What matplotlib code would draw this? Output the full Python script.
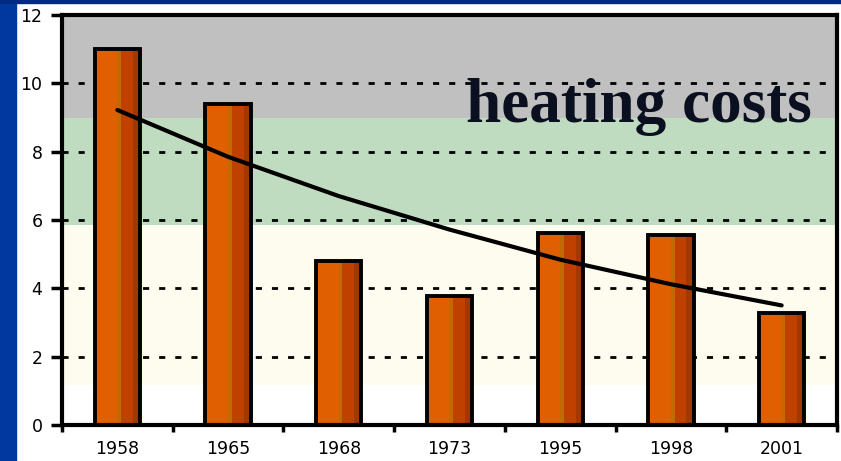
import numpy as np
import matplotlib.pyplot as plt
from matplotlib.patches import Rectangle

years = ['1958', '1965', '1968', '1973', '1995', '1998', '2001']
costs = [11.0, 9.4, 4.8, 3.78, 5.62, 5.56, 3.28]
trend = [9.22, 7.85, 6.7, 5.72, 4.84, 4.12, 3.5]

bands = [(9.0, 12.0, '#C0C0C0'), (5.85, 9.0, '#C0DCC0'), (1.18, 5.85, '#FEFBEF')]
# slices of one bar: start, end (fraction of width), colour
bar_slices = [(0.0, 0.5, '#E05F00'), (0.5, 0.58, '#C06A00'),
              (0.58, 0.84, '#C04000'), (0.84, 1.0, '#A03800')]

fig = plt.figure(figsize=(8.41, 4.61), dpi=100)
fig.patches.append(Rectangle((0, 0), 16 / 841, 1, transform=fig.transFigure,
                             color='#0038A0', zorder=0))
fig.patches.append(Rectangle((0, 1 - 3 / 461), 1, 3 / 461, transform=fig.transFigure,
                             color='#002A80', zorder=0))

ax = fig.add_axes([62 / 841, 1 - 425 / 461, (837 - 62) / 841, (425 - 15) / 461])
ax.set_facecolor('white')

for lo, hi, c in bands:
    ax.axhspan(lo, hi, color=c, zorder=0, lw=0)

for v in [2, 4, 6, 8, 10]:
    ax.axhline(v, color='black', lw=2, ls=(0, (2.2, 3.6)), zorder=1)

x = np.arange(len(years))
w = 0.41
for s, e, c in bar_slices:
    ax.bar(x - w / 2 + s * w, costs, width=(e - s) * w, align='edge', color=c, lw=0, zorder=2)
ax.bar(x, costs, width=w, fill=False, edgecolor='black', lw=2.8, zorder=3)

ax.plot(x, trend, color='black', lw=3, solid_capstyle='round', zorder=4)

ax.text(6.27, 8.88, 'heating costs', ha='right', va='baseline', fontsize=45.5,
        fontweight='bold', family='Liberation Serif', color='#0B1020', zorder=5)

ax.set_xlim(-0.5, 6.5)
ax.set_ylim(0, 12)
ax.set_yticks(range(0, 13, 2))
ax.set_xticks(x)
ax.set_xticklabels(years)
ax.set_xticks(np.arange(-0.5, 7, 1), minor=True)
ax.tick_params(axis='x', which='major', length=0, pad=11, labelsize=12.5)
ax.tick_params(axis='x', which='minor', length=5, width=2.5, direction='out')
ax.tick_params(axis='y', length=8, width=2.5, direction='out', pad=6, labelsize=12.5)
for sp in ax.spines.values():
    sp.set_linewidth(3)
    sp.set_zorder(6)

fig.savefig('out.png', dpi=100)
